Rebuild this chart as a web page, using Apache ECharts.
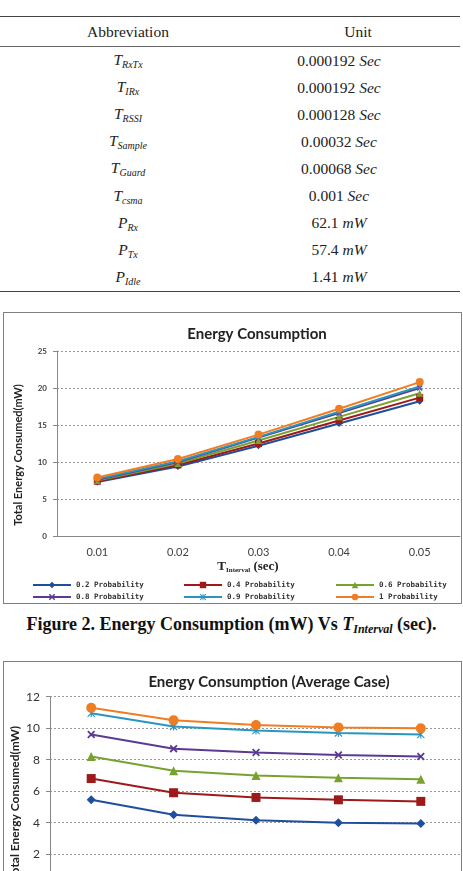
<!DOCTYPE html>
<html>
<head>
<meta charset="utf-8">
<script src="https://cdn.jsdelivr.net/npm/echarts@6/dist/echarts.min.js"></script>
<style>
	html,body{margin:0;padding:0;background:#fff;overflow:hidden;width:463px;height:871px;}
	.abs{position:absolute;}
	#tbl{left:0;top:16px;width:460px;border-collapse:collapse;font-family:"Liberation Serif","Times New Roman",serif;font-size:15.5px;color:#222;}
	#tbl th{font-weight:normal;height:27px;border-top:1.5px solid #444;border-bottom:1px solid #666;}
	#tbl td{height:27.1px;padding:0;text-align:center;}
	#tbl tr:last-child td{border-bottom:1.5px solid #444;}
	#tbl sub{font-size:10px;font-style:italic;vertical-align:-3px;}
	.frame{border:1.5px solid #808080;box-sizing:border-box;}
	#caption{left:0;top:614px;width:463px;text-align:center;font-family:"Liberation Serif",serif;font-weight:bold;font-size:18px;color:#111;}
	#caption sub{font-size:12px;font-style:italic;vertical-align:-3px;}
</style>
</head>
<body>
<table id="tbl" class="abs">
	<tr><th style="width:254px">Abbreviation</th><th>Unit</th></tr>
</table>
<div class="abs frame" style="left:3px;top:312px;width:459px;height:292px;"></div>
<div id="chart1" class="abs" style="left:0;top:300px;width:463px;height:310px;"></div>
<div id="caption" class="abs">Figure 2. Energy Consumption (mW) Vs <i>T</i><sub>Interval</sub> (sec).</div>
<div class="abs frame" style="left:3px;top:661px;width:459px;height:260px;"></div>
<div id="chart2" class="abs" style="left:0;top:655px;width:463px;height:250px;"></div>
<script>
// 表格数据
var abbrMain = ['T','T','T','T','T','T','P','P','P'];
var abbrSub = ['RxTx','IRx','RSSI','Sample','Guard','csma','Rx','Tx','Idle'];
var unitNum = ['0.000192','0.000192','0.000128','0.00032','0.00068','0.001','62.1','57.4','1.41'];
var unitName = ['Sec','Sec','Sec','Sec','Sec','Sec','mW','mW','mW'];

// 图1 数据
var xCats1 = ['0.01','0.02','0.03','0.04','0.05'];
var p02a = [7.3, 9.4, 12.2, 15.2, 18.2];
var p04a = [7.4, 9.6, 12.5, 15.6, 18.7];
var p06a = [7.5, 9.8, 12.9, 16.1, 19.3];
var p08a = [7.6, 10.0, 13.3, 16.6, 20.0];
var p09a = [7.7, 10.1, 13.4, 16.8, 20.2];
var p1a = [7.9, 10.4, 13.7, 17.2, 20.8];

// 图2 数据
var xCats2 = ['0.01','0.02','0.03','0.04','0.05'];
var p02b = [5.45, 4.5, 4.15, 4.0, 3.95];
var p04b = [6.8, 5.9, 5.6, 5.45, 5.35];
var p06b = [8.2, 7.3, 7.0, 6.85, 6.75];
var p08b = [9.6, 8.7, 8.45, 8.3, 8.2];
var p09b = [10.95, 10.1, 9.85, 9.7, 9.6];
var p1b = [11.3, 10.5, 10.2, 10.05, 10.0];

var names = ['0.2 Probability','0.4 Probability','0.6 Probability','0.8 Probability','0.9 Probability','1 Probability'];
var colors = ['#1f4f9c','#9e1a1a','#78a22f','#5c3a92','#2896c1','#f07d22'];

var xPath = 'path://M0,1.6L1.6,0L10,8.4L8.4,10Z M8.4,0L10,1.6L1.6,10L0,8.4Z';
var starPath = 'path://M4.3,0L5.7,0L5.7,10L4.3,10Z M0,1L1,0L10,9L9,10Z M9,0L10,1L1,10L0,9Z';
var symbols = ['diamond','rect','triangle',xPath,starPath,'circle'];

function initTable(){
	var tbl = document.getElementById('tbl');
	for(var i=0;i<abbrMain.length;i++){
		var tr = document.createElement('tr');
		tr.innerHTML = '<td><i>'+abbrMain[i]+'</i><sub>'+abbrSub[i]+'</sub></td>'+
			'<td style="padding-right:38px">'+unitNum[i]+' <i>'+unitName[i]+'</i></td>';
		tbl.appendChild(tr);
	}
}

function makeSeries(dataList, size){
	var out = [];
	for(var i=0;i<dataList.length;i++){
		out.push({
			name:names[i],
			type:'line',
			data:dataList[i],
			symbol:symbols[i],
			symbolSize:(i==5?size+1:(i==3||i==4?size-1:size)),
			lineStyle:{width:2,color:colors[i]},
			itemStyle:{color:colors[i]},
			animation:false
		});
	}
	return out;
}

function chart1(){
	var c = echarts.init(document.getElementById('chart1'));
	var legendBase = {orient:'vertical',top:281,padding:0,itemGap:4,itemWidth:38,itemHeight:8,
		textStyle:{fontFamily:'DejaVu Sans Mono',fontWeight:'bold',fontSize:7.5,color:'#333'}};
	c.setOption({
		title:{text:'Energy Consumption',left:252,top:22,textAlign:'center',
			textStyle:{fontFamily:'Lato',fontWeight:'bold',fontSize:15,color:'#222'}},
		grid:{left:57,right:3,top:51,bottom:74},
		legend:[
			Object.assign({left:32,data:[names[0],names[3]]},legendBase),
			Object.assign({left:183,data:[names[1],names[4]]},legendBase),
			Object.assign({left:335,data:[names[2],names[5]]},legendBase)
		],
		xAxis:{type:'category',data:xCats1,boundaryGap:true,
			axisLine:{lineStyle:{color:'#888',width:1}},
			axisTick:{length:4,lineStyle:{color:'#888'}},
			axisLabel:{margin:11,fontFamily:'Lato',fontSize:11,color:'#404040'}},
		yAxis:{type:'value',min:0,max:25,interval:5,
			axisLine:{show:true,lineStyle:{color:'#888'}},
			axisTick:{show:true,length:4,lineStyle:{color:'#888'}},
			axisLabel:{margin:10,fontFamily:'Lato',fontWeight:'bold',fontSize:8,color:'#444'},
			splitLine:{lineStyle:{color:'#999',type:[2,2]}}},
		graphic:[
			{type:'text',x:18,y:155,rotation:Math.PI/2,
				style:{text:'Total Energy Consumed(mW)',fill:'#222',align:'center',verticalAlign:'middle',
					font:'bold 11px Lato'}},
			{type:'text',x:248,y:267,
				style:{text:'{a|T}{b|Interval}{a| (sec)}',align:'center',verticalAlign:'middle',
					rich:{a:{fontFamily:'Liberation Serif',fontWeight:'bold',fontSize:13,fill:'#222'},
						b:{fontFamily:'Liberation Serif',fontWeight:'bold',fontSize:7,fill:'#222',padding:[6,0,0,0]}}}}
		],
		series:makeSeries([p02a,p04a,p06a,p08a,p09a,p1a],7)
	});
}

function chart2(){
	var c = echarts.init(document.getElementById('chart2'));
	c.setOption({
		title:{text:'Energy Consumption (Average Case)',left:264,top:15,textAlign:'center',
			textStyle:{fontFamily:'Lato',fontWeight:'bold',fontSize:15,color:'#222'}},
		grid:{left:50,right:1,top:41.7,bottom:19.4},
		xAxis:{type:'category',data:xCats2,boundaryGap:true,
			axisLine:{lineStyle:{color:'#888'}},
			axisTick:{length:4,lineStyle:{color:'#888'}},
			axisLabel:{fontFamily:'Lato',fontSize:11,color:'#404040'}},
		yAxis:{type:'value',min:0,max:12,interval:2,
			axisLine:{show:true,lineStyle:{color:'#888'}},
			axisTick:{show:true,length:4,lineStyle:{color:'#888'}},
			axisLabel:{margin:10,fontFamily:'Lato',fontSize:12,color:'#333'},
			splitLine:{lineStyle:{color:'#999',type:[2,2]}}},
		graphic:[
			{type:'text',x:15,y:148,rotation:Math.PI/2,
				style:{text:'Total Energy Consumed(mW)',fill:'#222',align:'center',verticalAlign:'middle',
					font:'bold 12px Lato'}}
		],
		series:makeSeries([p02b,p04b,p06b,p08b,p09b,p1b],9)
	});
}

initTable();
chart1();
chart2();
</script>
</body>
</html>
